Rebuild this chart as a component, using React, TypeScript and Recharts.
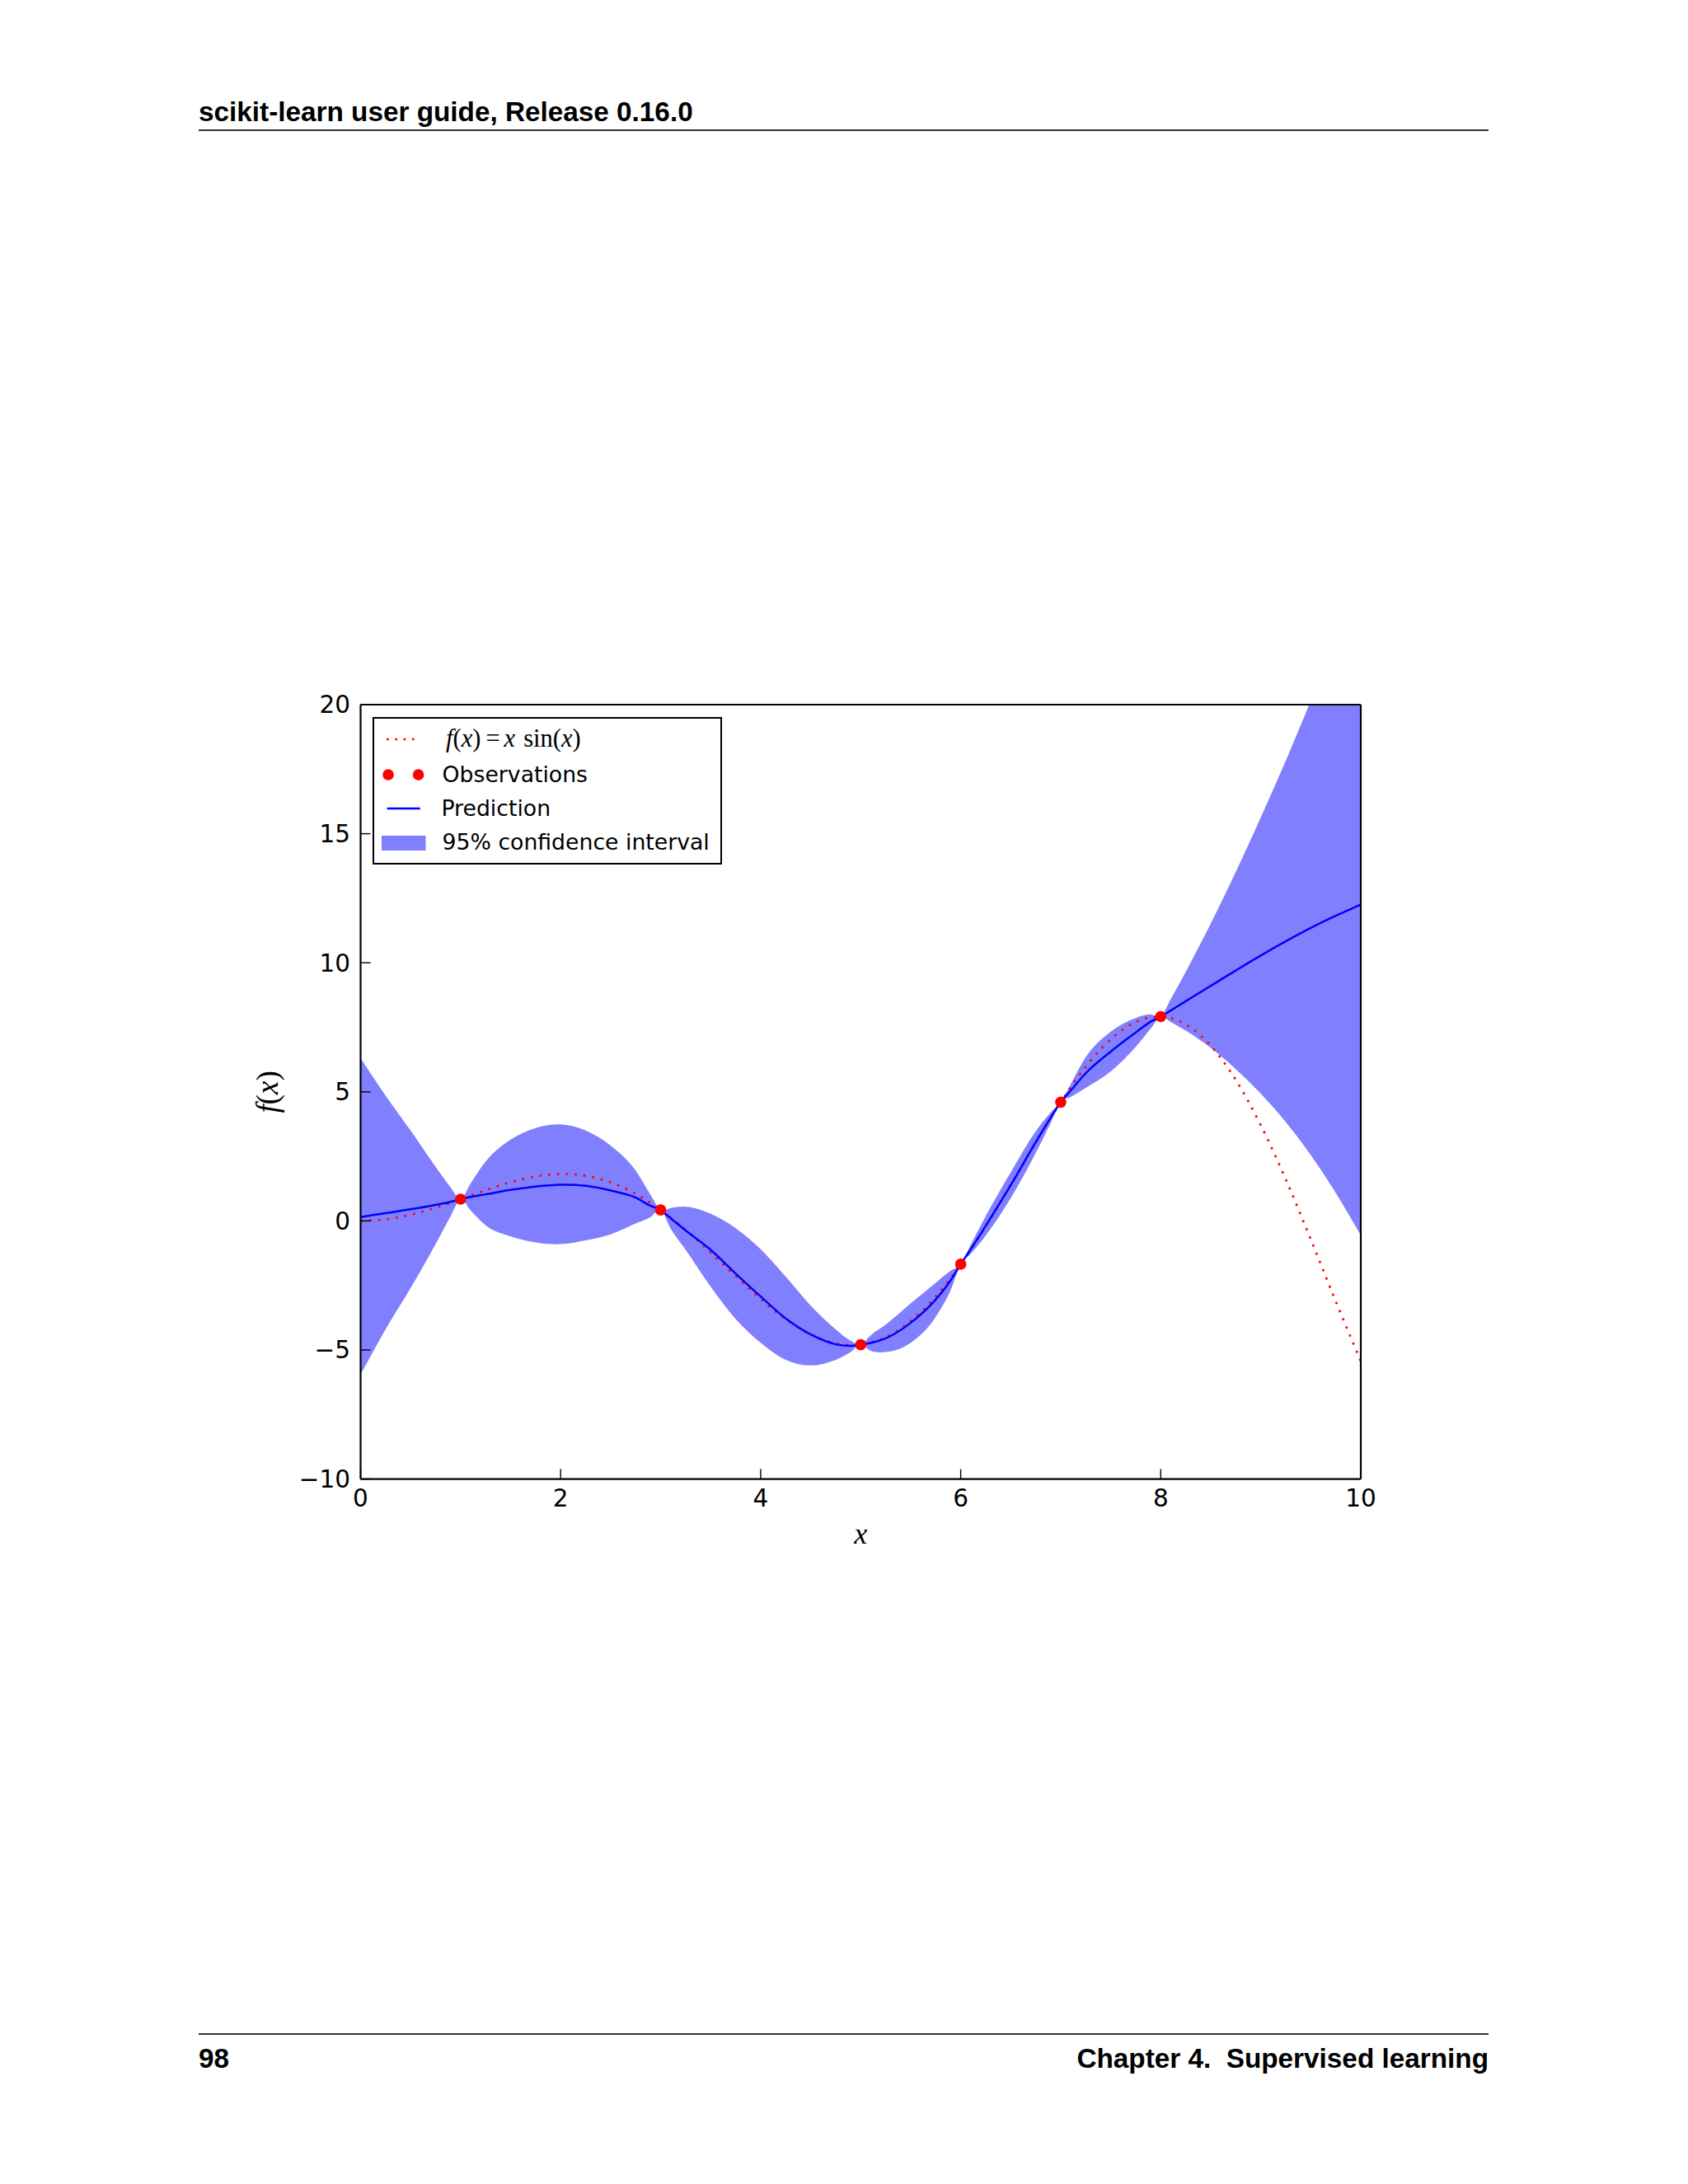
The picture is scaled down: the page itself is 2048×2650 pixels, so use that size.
import React from 'react';
import { ComposedChart, Area, Line, Scatter, XAxis, YAxis, Legend } from 'recharts';

// ---------- data ----------
const X_TICKS = [0, 2, 4, 6, 8, 10];
const Y_TICKS = [-10, -5, 0, 5, 10, 15, 20];

// sample positions for the prediction and its 95% band
const GRID_X = [0, 0.25, 0.5, 0.75, 0.9, 1, 1.1, 1.25, 1.5, 1.75, 2, 2.25, 2.5, 2.75, 2.9, 3, 3.1, 3.25, 3.5, 3.75, 4, 4.25, 4.5, 4.75, 4.9, 5, 5.1, 5.25, 5.5, 5.75, 5.9, 6, 6.1, 6.25, 6.5, 6.75, 6.9, 7, 7.1, 7.25, 7.5, 7.75, 7.9, 8, 8.1, 8.25, 8.5, 8.75, 9, 9.25, 9.5, 9.75, 10];

const PRED = [0.15, 0.3, 0.45, 0.62, 0.74, 0.84, 0.93, 1.03, 1.2, 1.33, 1.4, 1.36, 1.18, 0.9, 0.58, 0.42, 0.1, -0.37, -1.12, -2.04, -2.93, -3.78, -4.4, -4.78, -4.84, -4.79, -4.73, -4.55, -3.95, -3.05, -2.3, -1.68, -1.1, -0.19, 1.38, 3.05, 4.0, 4.6, 5.05, 5.72, 6.56, 7.3, 7.72, 7.91, 8.15, 8.51, 9.11, 9.7, 10.28, 10.83, 11.35, 11.82, 12.25];

const UPPER = [6.3, 4.85, 3.5, 2.1, 1.3, 0.84, 1.45, 2.3, 3.15, 3.6, 3.74, 3.5, 2.92, 1.95, 1.0, 0.42, 0.5, 0.55, 0.28, -0.28, -1.1, -2.16, -3.28, -4.2, -4.64, -4.79, -4.43, -4.02, -3.2, -2.4, -1.93, -1.68, -0.92, 0.19, 1.88, 3.47, 4.2, 4.6, 5.3, 6.34, 7.33, 7.86, 8.0, 7.91, 8.59, 9.65, 11.52, 13.52, 15.63, 17.83, 20.15, 22.56, 25.05];

const LOWER = [-5.95, -4.2, -2.6, -0.9, 0.18, 0.84, 0.4, -0.17, -0.6, -0.83, -0.9, -0.75, -0.52, -0.1, 0.15, 0.42, -0.3, -1.12, -2.55, -3.8, -4.72, -5.38, -5.6, -5.38, -5.08, -4.79, -5.03, -5.08, -4.72, -3.72, -2.68, -1.68, -1.28, -0.57, 0.88, 2.63, 3.8, 4.6, 4.8, 5.15, 5.79, 6.74, 7.45, 7.91, 7.71, 7.37, 6.7, 5.88, 4.93, 3.83, 2.55, 1.08, -0.55];

// f(x) = x sin(x), the dotted curve
const TRUE_X = [0, 0.25, 0.5, 0.75, 1, 1.25, 1.5, 1.75, 2, 2.25, 2.5, 2.75, 3, 3.25, 3.5, 3.75, 4, 4.25, 4.5, 4.75, 5, 5.25, 5.5, 5.75, 6, 6.25, 6.5, 6.75, 7, 7.25, 7.5, 7.75, 8, 8.25, 8.5, 8.75, 9, 9.25, 9.5, 9.75, 10];
const TRUE_Y = [0, 0.062, 0.24, 0.511, 0.841, 1.186, 1.496, 1.722, 1.819, 1.751, 1.496, 1.05, 0.423, -0.352, -1.228, -2.144, -3.027, -3.804, -4.399, -4.747, -4.795, -4.509, -3.88, -2.933, -1.676, -0.207, 1.398, 3.038, 4.599, 5.968, 7.035, 7.708, 7.915, 7.612, 6.787, 5.466, 3.709, 1.61, -0.714, -3.115, -5.44];

// observations
const OBS_X = [1, 3, 5, 6, 7, 8];
const OBS_Y = [0.841, 0.423, -4.795, -1.676, 4.599, 7.915];

const LEGEND_LABELS = ['Observations', 'Prediction', '95% confidence interval'];
const HEADER_TEXT = 'scikit-learn user guide, Release 0.16.0';
const FOOTER_LEFT = '98';
const FOOTER_RIGHT = 'Chapter 4.  Supervised learning';

// ---------- tables built for the library ----------
const bandData = GRID_X.map((x, i) => ({ x, band: [LOWER[i], UPPER[i]] }));
const predData = GRID_X.map((x, i) => ({ x, y: PRED[i] }));
const trueData = TRUE_X.map((x, i) => ({ x, y: TRUE_Y[i] }));
const obsData = OBS_X.map((x, i) => ({ x, y: OBS_Y[i] }));

// smooth cubic Hermite curve (parabolic tangents, no monotone clamping)
function smoothCurve(context: any) {
  let xs: number[] = [];
  let ys: number[] = [];
  let line = NaN;
  return {
    areaStart() { line = 0; },
    areaEnd() { line = NaN; },
    lineStart() { xs = []; ys = []; },
    point(x: number, y: number) { xs.push(+x); ys.push(+y); },
    lineEnd() {
      const n = xs.length;
      if (n) {
        if (line) context.lineTo(xs[0], ys[0]);
        else context.moveTo(xs[0], ys[0]);
        if (n === 2) context.lineTo(xs[1], ys[1]);
        else if (n > 2) {
          const m: number[] = new Array(n);
          for (let i = 0; i < n; i++) {
            if (i === 0) m[i] = (ys[1] - ys[0]) / (xs[1] - xs[0]);
            else if (i === n - 1) m[i] = (ys[n - 1] - ys[n - 2]) / (xs[n - 1] - xs[n - 2]);
            else {
              const h0 = xs[i] - xs[i - 1];
              const h1 = xs[i + 1] - xs[i];
              const d0 = (ys[i] - ys[i - 1]) / h0;
              const d1 = (ys[i + 1] - ys[i]) / h1;
              m[i] = (d0 * h1 + d1 * h0) / (h0 + h1);
            }
          }
          for (let i = 0; i < n - 1; i++) {
            const h = xs[i + 1] - xs[i];
            context.bezierCurveTo(
              xs[i] + h / 3, ys[i] + (m[i] * h) / 3,
              xs[i + 1] - h / 3, ys[i + 1] - (m[i + 1] * h) / 3,
              xs[i + 1], ys[i + 1]
            );
          }
        }
      }
      if (line || (line !== 0 && n === 1)) context.closePath();
      line = 1 - line;
    },
  };
}

const fmt = (v: number) => (v < 0 ? '\u2212' + Math.abs(v) : String(v));

const TICK_FONT = { fill: '#000', fontSize: 29.5, fontFamily: 'DejaVu Sans' };
const AXIS_LINE = { stroke: '#000', strokeWidth: 2.2 };
const TICK_LINE = { stroke: '#000', strokeWidth: 1.4 };

const serif = "'Liberation Serif', 'DejaVu Serif', serif";

const XTitle = (props: any) => {
  const vb = props.viewBox || { x: 137.5, y: 994.6, width: 1213.5, height: 80 };
  return (
    <text x={vb.x + vb.width / 2} y={vb.y + 78.4} textAnchor="middle" fontFamily={serif} fontSize={36} fontStyle="italic" fill="#000">
      x
    </text>
  );
};

const YTitle = (props: any) => {
  const vb = props.viewBox || { x: 0, y: 55, width: 137.5, height: 939.6 };
  const cx = vb.x + 24;
  const cy = vb.y + vb.height / 2;
  return (
    <text x={cx} y={cy} transform={`rotate(-90 ${cx} ${cy})`} textAnchor="middle" dominantBaseline="central" fontFamily={serif} fontSize={37} fill="#000">
      <tspan fontStyle="italic">f</tspan>
      <tspan>(</tspan>
      <tspan fontStyle="italic">x</tspan>
      <tspan>)</tspan>
    </text>
  );
};

const renderLegend = () => {
  const sans = "'DejaVu Sans', sans-serif";
  return (
    <svg width={424} height={179} style={{ display: 'block' }}>
      <rect x={1} y={1} width={422} height={177} fill="#fff" stroke="#000" strokeWidth={2} />
      {/* f(x) = x sin(x) */}
      <line x1={17} y1={27} x2={52} y2={27} stroke="#ff0000" strokeWidth={2.7} strokeDasharray="2.7 7.6" />
      <text x={89} y={36} fontFamily={serif} fontSize={30.5} fill="#000">
        <tspan fontStyle="italic">f</tspan>
        <tspan>(</tspan>
        <tspan fontStyle="italic">x</tspan>
        <tspan>)</tspan>
        <tspan dx={6}>=</tspan>
        <tspan dx={5} fontStyle="italic">x</tspan>
        <tspan dx={10}>sin(</tspan>
        <tspan fontStyle="italic">x</tspan>
        <tspan>)</tspan>
      </text>
      {/* Observations */}
      <circle cx={19} cy={70} r={6.8} fill="#ff0000" />
      <circle cx={55.6} cy={70} r={6.8} fill="#ff0000" />
      <text x={84.6} y={79} fontFamily={sans} fontSize={26.7} fill="#000">{LEGEND_LABELS[0]}</text>
      {/* Prediction */}
      <line x1={17.6} y1={111} x2={57.8} y2={111} stroke="#0000ff" strokeWidth={2.5} />
      <text x={83.5} y={120} fontFamily={sans} fontSize={26.7} fill="#000">{LEGEND_LABELS[1]}</text>
      {/* band */}
      <rect x={11} y={144} width={53.5} height={18} fill="#8080ff" />
      <text x={84.6} y={161} fontFamily={sans} fontSize={26.7} fill="#000">{LEGEND_LABELS[2]}</text>
    </svg>
  );
};

const pageText = {
  position: 'absolute' as const,
  fontFamily: "'Liberation Sans', Arial, sans-serif",
  fontWeight: 700,
  fontSize: 33.3,
  lineHeight: '33px',
  color: '#000',
  whiteSpace: 'pre' as const,
  margin: 0,
};

export default function App() {
  return (
    <div style={{ position: 'absolute', left: 0, top: 0, width: 2048, height: 2650, background: '#ffffff', overflow: 'hidden' }}>
      <div style={{ ...pageText, left: 241, top: 119 }}>{HEADER_TEXT}</div>
      <div style={{ position: 'absolute', left: 241, top: 156.9, width: 1565, height: 1.7, background: '#333' }} />

      <div style={{ position: 'absolute', left: 300, top: 800 }}>
        <ComposedChart width={1400} height={1120} margin={{ top: 54, right: 48, left: 0, bottom: 45.4 }}>
          <XAxis
            xAxisId="b"
            dataKey="x"
            type="number"
            domain={[0, 10]}
            ticks={X_TICKS}
            interval={0}
            allowDataOverflow
            height={80}
            tickSize={-12}
            tickMargin={24.4}
            tick={TICK_FONT}
            tickFormatter={fmt}
            axisLine={AXIS_LINE}
            tickLine={TICK_LINE}
            label={(p: any) => <XTitle {...p} />}
          />
          <XAxis
            xAxisId="t"
            orientation="top"
            dataKey="x"
            type="number"
            domain={[0, 10]}
            ticks={X_TICKS}
            interval={0}
            allowDataOverflow
            height={1}
            tickSize={-12}
            tick={false}
            axisLine={AXIS_LINE}
            tickLine={TICK_LINE}
          />
          <YAxis
            yAxisId="l"
            type="number"
            domain={[-10, 20]}
            ticks={Y_TICKS}
            interval={0}
            allowDataOverflow
            width={137.5}
            tickSize={-12}
            tickMargin={24.5}
            tick={TICK_FONT}
            tickFormatter={fmt}
            axisLine={AXIS_LINE}
            tickLine={TICK_LINE}
            label={(p: any) => <YTitle {...p} />}
          />
          <YAxis
            yAxisId="r"
            orientation="right"
            type="number"
            domain={[-10, 20]}
            ticks={Y_TICKS}
            interval={0}
            allowDataOverflow
            width={1}
            tickSize={-12}
            tick={false}
            axisLine={AXIS_LINE}
            tickLine={TICK_LINE}
          />
          <Area
            xAxisId="b"
            yAxisId="l"
            data={bandData}
            dataKey="band"
            type={smoothCurve as any}
            stroke="none"
            fill="#8080ff"
            fillOpacity={1}
            isAnimationActive={false}
            activeDot={false}
          />
          <Line
            xAxisId="b"
            yAxisId="l"
            data={trueData}
            dataKey="y"
            type={smoothCurve as any}
            stroke="#ff0000"
            strokeWidth={2.7}
            strokeDasharray="2.7 8"
            dot={false}
            activeDot={false}
            isAnimationActive={false}
          />
          <Line
            xAxisId="b"
            yAxisId="l"
            data={predData}
            dataKey="y"
            type={smoothCurve as any}
            stroke="#0000ff"
            strokeWidth={2.5}
            dot={false}
            activeDot={false}
            isAnimationActive={false}
          />
          <Scatter
            xAxisId="b"
            yAxisId="l"
            data={obsData}
            dataKey="y"
            isAnimationActive={false}
            shape={(p: any) => <circle cx={p.cx} cy={p.cy} r={6.8} fill="#ff0000" />}
          />
          <Legend
            layout="vertical"
            align="center"
            verticalAlign="middle"
            wrapperStyle={{ left: 152, top: 70, width: 424, height: 179 }}
            content={renderLegend}
          />
        </ComposedChart>
      </div>

      <div style={{ position: 'absolute', left: 241, top: 2467.3, width: 1565, height: 1.7, background: '#333' }} />
      <div style={{ ...pageText, left: 241, top: 2481 }}>{FOOTER_LEFT}</div>
      <div style={{ ...pageText, left: 241, top: 2481, width: 1565, textAlign: 'right' }}>{FOOTER_RIGHT}</div>
    </div>
  );
}
